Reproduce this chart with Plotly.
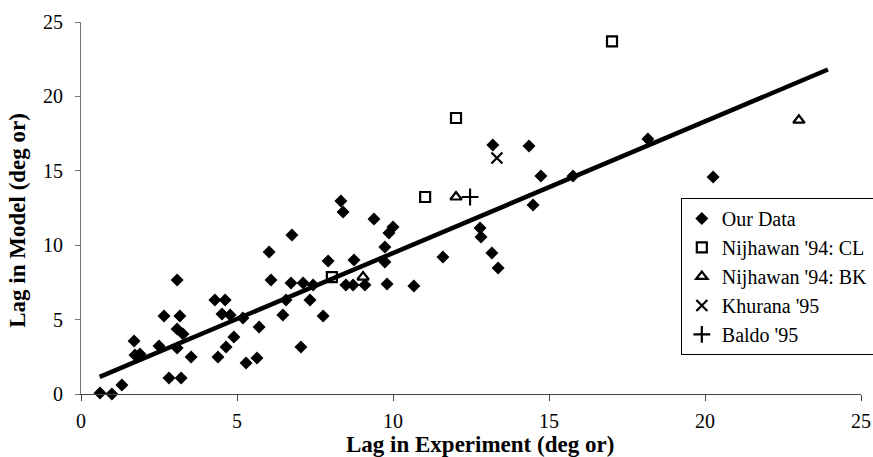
import plotly.graph_objects as go

# ---- data ----
our_x = [0.61, 0.99, 1.31, 1.70, 1.73, 1.89, 2.50, 2.66, 3.08, 3.17, 3.08, 3.27, 3.08, 3.53,
         2.82, 3.21, 4.29, 4.62, 4.52, 4.78, 5.19, 4.90, 4.65, 4.39, 5.29, 5.64, 5.71, 6.03,
         6.09, 6.76, 6.73, 7.12, 7.44, 6.57, 6.47, 7.34, 7.76, 7.05, 7.92, 8.33, 8.40, 8.75,
         8.49, 8.72, 9.10, 9.39, 10.00, 9.87, 9.74, 9.74, 9.81, 10.67, 11.60, 12.79, 12.82,
         13.17, 13.37, 13.20, 14.36, 14.74, 14.49, 15.77, 18.17, 20.26]
our_y = [0.07, 0.0, 0.60, 3.56, 2.62, 2.69, 3.23, 5.24, 7.66, 5.24, 4.37, 4.03, 3.09, 2.49,
         1.08, 1.08, 6.32, 6.32, 5.38, 5.31, 5.11, 3.83, 3.16, 2.49, 2.08, 2.42, 4.50, 9.54,
         7.66, 10.69, 7.46, 7.46, 7.33, 6.32, 5.31, 6.32, 5.24, 3.16, 8.94, 12.97, 12.23, 9.00,
         7.33, 7.33, 7.33, 11.76, 11.22, 10.82, 9.88, 8.87, 7.39, 7.26, 9.20, 11.16, 10.55,
         9.48, 8.47, 16.73, 16.67, 14.65, 12.70, 14.65, 17.14, 14.58]

cl_x = [8.04, 11.03, 12.02, 17.02]
cl_y = [7.86, 13.24, 18.55, 23.70]

bk_x = [9.04, 12.02, 23.01]
bk_y = [7.86, 13.24, 18.40]

khurana_x = [13.33]
khurana_y = [15.86]

baldo_x = [12.47]
baldo_y = [13.24]

trend_x_range = [0.6, 23.94]
trend_slope = 0.885
trend_intercept = 0.62

x_ticks = [0, 5, 10, 15, 20, 25]
y_ticks = [0, 5, 10, 15, 20, 25]

serif = "Liberation Serif, Times New Roman, serif"

trend_y = [trend_slope * v + trend_intercept for v in trend_x_range]

fig = go.Figure()

fig.add_trace(go.Scatter(x=trend_x_range, y=trend_y, mode="lines",
                         line=dict(color="black", width=4.5), showlegend=False,
                         hoverinfo="skip"))

fig.add_trace(go.Scatter(x=our_x, y=our_y, mode="markers", name="Our Data",
                         marker=dict(symbol="diamond", size=10, color="black",
                                     line=dict(width=0)),
                         cliponaxis=False))
fig.add_trace(go.Scatter(x=cl_x, y=cl_y, mode="markers", name="Nijhawan '94: CL",
                         marker=dict(symbol="square-open", size=10, color="black",
                                     line=dict(width=2.2, color="black")),
                         cliponaxis=False))
fig.add_trace(go.Scatter(x=bk_x, y=bk_y, mode="markers", name="Nijhawan '94: BK",
                         marker=dict(symbol="triangle-up-open", size=10, color="black",
                                     line=dict(width=2.2, color="black")),
                         cliponaxis=False))
fig.add_trace(go.Scatter(x=khurana_x, y=khurana_y, mode="markers", name="Khurana '95",
                         marker=dict(symbol="x-thin-open", size=11, color="black",
                                     line=dict(width=2.2, color="black")),
                         cliponaxis=False))
fig.add_trace(go.Scatter(x=baldo_x, y=baldo_y, mode="markers", name="Baldo '95",
                         marker=dict(symbol="cross-thin-open", size=12, color="black",
                                     line=dict(width=2.2, color="black")),
                         cliponaxis=False))

fig.update_layout(
    width=873, height=457,
    margin=dict(l=81, r=12, t=22, b=63, autoexpand=False),
    paper_bgcolor="white", plot_bgcolor="white",
    font=dict(family=serif, size=20, color="black"),
    showlegend=True,
    legend=dict(x=0.769, y=0.527, xanchor="left", yanchor="top",
                bordercolor="black", borderwidth=1, bgcolor="white",
                font=dict(family=serif, size=20, color="black"),
                itemwidth=30),
    xaxis=dict(range=[0, 25], tickvals=x_ticks, ticktext=[str(v) for v in x_ticks],
               showgrid=False, zeroline=False, showline=True, linecolor="#444",
               linewidth=1, ticks="outside", ticklen=6, tickcolor="#444",
               ticklabelstandoff=3, tickfont=dict(family=serif, size=20),
               automargin=False),
    yaxis=dict(range=[0, 25], tickvals=y_ticks, ticktext=[str(v) for v in y_ticks],
               showgrid=False, zeroline=False, showline=True, linecolor="#777",
               linewidth=1, ticks="outside", ticklen=5, tickcolor="#777",
               ticklabelstandoff=8, tickfont=dict(family=serif, size=20),
               automargin=False),
    annotations=[
        dict(text="<b>Lag in Experiment (deg or)</b>", xref="paper", yref="paper",
             x=0.512, y=-0.135, xanchor="center", yanchor="middle", showarrow=False,
             font=dict(family=serif, size=23, color="black")),
        dict(text="<b>Lag in Model (deg or)</b>", xref="paper", yref="paper",
             x=-0.081, y=0.468, xanchor="center", yanchor="middle", showarrow=False,
             textangle=-90, font=dict(family=serif, size=23, color="black")),
    ],
)

fig.write_html(
    "out.html",
    config={"displayModeBar": False},
    post_script="document.body.style.margin='0';"
                "document.documentElement.style.overflow='hidden';"
                "document.body.style.overflow='hidden';",
)
